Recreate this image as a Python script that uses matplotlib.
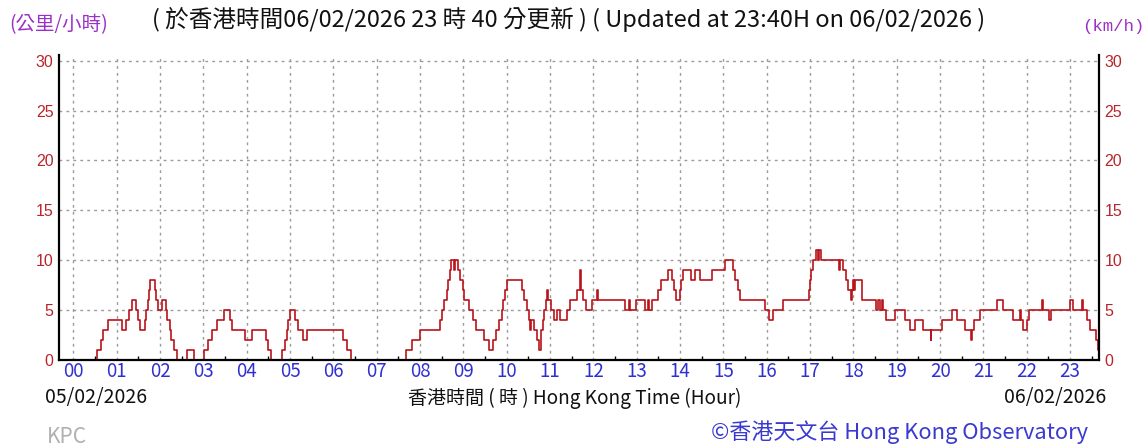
import matplotlib
matplotlib.use("Agg")
import matplotlib.pyplot as plt
import numpy as np

plt.rcParams['font.family'] = ['Noto Sans CJK TC', 'DejaVu Sans']

# wind speed change points (hour of day, km/h), step-wise
hours = [-0.33, 0.55, 0.63, 0.69, 0.79, 1.13, 1.22, 1.29, 1.36, 1.44, 1.48, 1.53, 1.65, 1.68,
         1.71, 1.74, 1.77, 1.88, 1.91, 1.96, 2.05, 2.13, 2.17, 2.22, 2.26, 2.31, 2.39, 2.62,
         2.79, 3.02, 3.10, 3.19, 3.31, 3.48, 3.61, 3.67, 3.96, 4.11, 4.44, 4.48, 4.55, 4.81,
         4.88, 4.93, 4.96, 5.00, 5.12, 5.18, 5.30, 5.39, 6.23, 6.31, 6.40, 7.68, 7.82, 8.00,
         8.45, 8.51, 8.56, 8.61, 8.64, 8.68, 8.71, 8.78, 8.81, 8.88, 8.93, 8.99, 9.02, 9.13,
         9.21, 9.30, 9.47, 9.58, 9.69, 9.75, 9.81, 9.88, 9.92, 9.96, 10.01, 10.34, 10.39,
         10.46, 10.51, 10.53, 10.57, 10.62, 10.69, 10.75, 10.80, 10.84, 10.87, 10.90, 10.93,
         10.96, 11.01, 11.09, 11.15, 11.23, 11.39, 11.45, 11.62, 11.68, 11.70, 11.72, 11.76,
         11.82, 11.96, 12.08, 12.10, 12.72, 12.82, 12.85, 12.99, 13.20, 13.27, 13.29, 13.36,
         13.49, 13.57, 13.72, 13.82, 13.87, 13.90, 13.99, 14.03, 14.07, 14.26, 14.34, 14.47,
         14.74, 15.03, 15.22, 15.27, 15.33, 15.39, 15.96, 16.06, 16.15, 16.38, 16.97, 17.00,
         17.03, 17.06, 17.14, 17.18, 17.21, 17.25, 17.67, 17.70, 17.77, 17.82, 17.88, 17.94,
         17.97, 18.00, 18.02, 18.04, 18.19, 18.52, 18.56, 18.62, 18.66, 18.68, 18.75, 18.96,
         19.19, 19.31, 19.42, 19.60, 19.78, 19.80, 20.04, 20.27, 20.38, 20.58, 20.72, 20.74,
         20.78, 20.92, 21.32, 21.46, 21.68, 21.84, 21.86, 21.92, 22.00, 22.06, 22.36, 22.38,
         22.52, 22.55, 23.00, 23.06, 23.27, 23.30, 23.38, 23.45, 23.59, 23.64, 23.667]
speed = [0, 1, 2, 3, 4, 3, 4, 5, 6, 5, 4, 3, 4, 5,
         6, 7, 8, 7, 6, 5, 6, 5, 4, 3, 2, 1, 0, 1,
         0, 1, 2, 3, 4, 5, 4, 3, 2, 3, 2, 1, 0, 1,
         2, 3, 4, 5, 4, 3, 2, 3, 2, 1, 0, 1, 2, 3,
         4, 5, 6, 7, 8, 9, 10, 9, 10, 9, 8, 7, 6, 5,
         4, 3, 2, 1, 2, 3, 4, 5, 6, 7, 8, 7, 6,
         5, 4, 3, 4, 3, 2, 1, 3, 4, 5, 6, 7,
         6, 5, 4, 5, 4, 5, 6, 7, 8, 9, 7, 6,
         5, 6, 7, 6, 5, 6, 5, 6, 5, 6, 5, 6,
         7, 8, 9, 8, 7, 6, 7, 8, 9, 8, 9, 8,
         9, 10, 9, 8, 7, 6, 5, 4, 5, 6, 7, 8,
         9, 10, 11, 10, 11, 10, 9, 10, 9, 8, 7, 6,
         7, 8, 7, 8, 6, 5, 6, 5, 6, 5, 4, 5,
         4, 3, 4, 3, 2, 3, 4, 5, 4, 3, 2, 3,
         4, 5, 6, 5, 4, 5, 4, 3, 4, 5, 6, 5,
         4, 5, 6, 5, 6, 5, 4, 3, 2, 1, 1]

hour_labels = [f"{h:02d}" for h in range(24)]
y_ticks = [0, 5, 10, 15, 20, 25, 30]

W, H = 1148, 446
fig = plt.figure(figsize=(W / 100, H / 100), dpi=100)
ax = fig.add_axes([59 / W, (H - 359.5) / H, (1099 - 59) / W, (359.5 - 55) / H])

ax.step(hours, speed, where='post', color='#b8141a', lw=1.2)

ax.set_xlim(-1 / 3, 23 + 2 / 3)
ax.set_ylim(0, 30.6)
ax.set_xticks(range(24))
ax.set_xticklabels(hour_labels, color='#3030d0', fontsize=13.5)
ax.set_xticks(np.arange(0.5, 23.6, 1), minor=True)
ax.set_yticks(y_ticks)
ax.tick_params(axis='x', which='major', length=0, pad=1)
ax.tick_params(axis='x', which='minor', direction='in', length=3, width=1)
ax.tick_params(axis='y', which='major', length=0, labelcolor='#b8252a',
               labelsize=11.5, left=True, right=True, labelleft=True, labelright=True, pad=4)
for lab in ax.get_yticklabels():
    lab.set_family(['Liberation Sans', 'DejaVu Sans'])

ax.grid(True, color='#9a9a9a', ls=(0, (2, 3)), lw=1)
ax.spines['top'].set_visible(False)
for s in ['left', 'bottom', 'right']:
    ax.spines[s].set_linewidth(1.6)
    ax.spines[s].set_color('black')


def px(x, y):
    return x / W, 1 - y / H


fig.text(*px(9, 25), "(公里/小時)", color='#9b30c8', fontsize=14, va='center', ha='left')
fig.text(*px(1144, 26), "(km/h)", color='#9b30c8', fontsize=12.5, va='center', ha='right',
         family=['Liberation Mono', 'DejaVu Sans Mono'])
fig.text(*px(152, 19), "( 於香港時間06/02/2026 23 時 40 分更新 ) ( Updated at 23:40H on 06/02/2026 )",
         color='#111111', fontsize=17, va='center', ha='left')
fig.text(*px(45, 398), "05/02/2026", color='#111111', fontsize=14, va='center', ha='left')
fig.text(*px(575, 398), "香港時間 ( 時 ) Hong Kong Time (Hour)", color='#111111', fontsize=13.7,
         va='center', ha='center')
fig.text(*px(1106, 398), "06/02/2026", color='#111111', fontsize=14, va='center', ha='right')
fig.text(*px(47, 437), "KPC", color='#b0b0b0', fontsize=15, va='center', ha='left')
fig.text(*px(1088, 432), "©香港天文台 Hong Kong Observatory", color='#3a3ad0', fontsize=15.8,
         va='center', ha='right')

fig.savefig('out.png', dpi=100)
